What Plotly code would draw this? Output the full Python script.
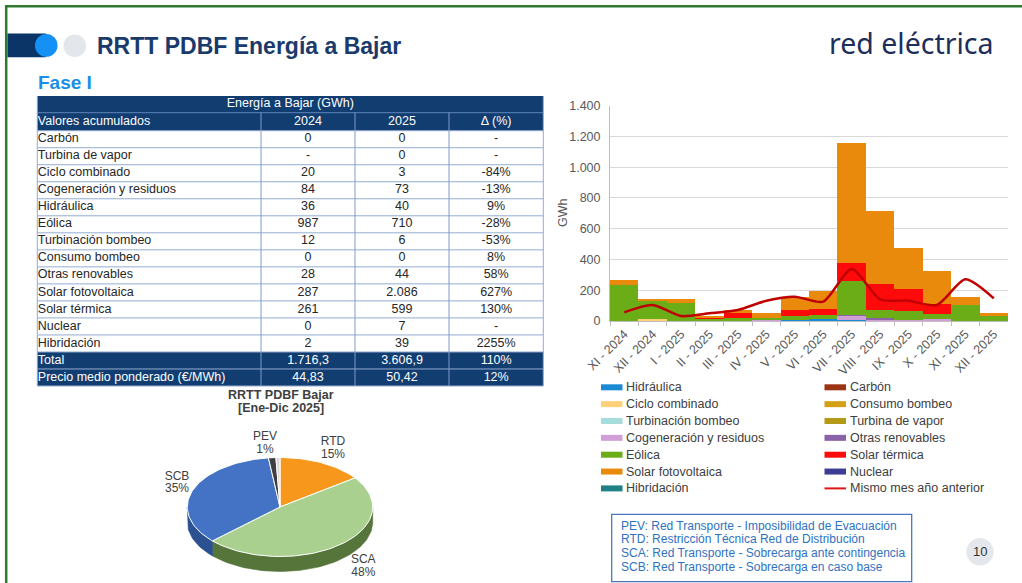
import math
import plotly.graph_objects as go

W, H = 1022, 583
FONT = "Liberation Sans, Arial, sans-serif"

# ---------------- DATA ----------------
months = ["XI - 2024", "XII - 2024", "I - 2025", "II - 2025", "III - 2025", "IV - 2025",
          "V - 2025", "VI - 2025", "VII - 2025", "VIII - 2025", "IX - 2025", "X - 2025",
          "XI - 2025", "XII - 2025"]

hidraulica   = [0, 0, 0, 0, 0, 0, 10, 12, 8, 0, 0, 0, 0, 0]
carbon       = [0, 0, 0, 0, 0, 0, 0, 0, 0, 0, 0, 0, 0, 0]
ciclo_comb   = [0, 15, 0, 0, 0, 0, 0, 0, 0, 0, 0, 0, 0, 0]
consumo_bomb = [0, 0, 0, 0, 0, 0, 0, 0, 0, 0, 0, 0, 0, 0]
turbinacion  = [0, 0, 0, 0, 0, 0, 0, 0, 0, 0, 0, 0, 0, 0]
turbina_vap  = [0, 0, 0, 0, 0, 0, 0, 0, 0, 0, 0, 0, 0, 0]
cogeneracion = [0, 0, 0, 0, 0, 7, 0, 0, 27, 14, 11, 15, 0, 0]
otras_renov  = [0, 0, 0, 0, 0, 0, 0, 0, 8, 8, 0, 0, 0, 0]
eolica       = [235, 115, 119, 18, 24, 14, 22, 27, 217, 54, 56, 31, 104, 33]
solar_term   = [0, 0, 0, 4, 30, 0, 39, 43, 119, 164, 141, 69, 0, 0]
solar_fv     = [32, 17, 28, 12, 22, 31, 87, 118, 780, 477, 271, 210, 54, 21]
nuclear      = [0, 0, 0, 0, 0, 0, 0, 0, 0, 0, 0, 0, 0, 0]
hibridacion  = [0, 0, 0, 0, 0, 0, 0, 0, 0, 0, 0, 0, 0, 0]
mismo_mes    = [56, 104, 32, 50, 72, 132, 158, 126, 338, 141, 132, 104, 271, 147]

series_names = ["Hidráulica", "Carbón", "Ciclo combinado", "Consumo bombeo",
                "Turbinación bombeo", "Turbina de vapor", "Cogeneración y residuos",
                "Otras renovables", "Eólica", "Solar térmica", "Solar fotovoltaica",
                "Nuclear", "Hibridación"]
series_values = [hidraulica, carbon, ciclo_comb, consumo_bomb, turbinacion, turbina_vap,
                 cogeneracion, otras_renov, eolica, solar_term, solar_fv, nuclear, hibridacion]
line_name = "Mismo mes año anterior"

y_ticks = [0, 200, 400, 600, 800, 1000, 1200, 1400]
y_title = "GWh"

tbl_title = "Energía a Bajar (GWh)"
tbl_header = ["Valores acumulados", "2024", "2025", "Δ (%)"]
tbl_rows = ["Carbón", "Turbina de vapor", "Ciclo combinado", "Cogeneración y residuos",
            "Hidráulica", "Eólica", "Turbinación bombeo", "Consumo bombeo",
            "Otras renovables", "Solar fotovoltaica", "Solar térmica", "Nuclear",
            "Hibridación", "Total", "Precio medio ponderado (€/MWh)"]
tbl_2024 = ["0", "-", "20", "84", "36", "987", "12", "0", "28", "287", "261", "0", "2",
            "1.716,3", "44,83"]
tbl_2025 = ["0", "0", "3", "73", "40", "710", "6", "0", "44", "2.086", "599", "7", "39",
            "3.606,9", "50,42"]
tbl_delta = ["-", "-", "-84%", "-13%", "9%", "-28%", "-53%", "8%", "58%", "627%", "130%",
             "-", "2255%", "110%", "12%"]
tbl_dark_rows = ["Total", "Precio medio ponderado (€/MWh)"]

pie_title = ["RRTT PDBF Bajar", "[Ene-Dic 2025]"]
pie_labels = ["RTD", "SCA", "SCB", "PEV", "Otros"]
pie_values = [15.0, 48.0, 35.0, 1.3, 0.7]
pie_show_label = [True, True, True, True, False]

footer_lines = ["PEV: Red Transporte - Imposibilidad de Evacuación",
                "RTD: Restricción Técnica Red de Distribución",
                "SCA: Red Transporte - Sobrecarga ante contingencia",
                "SCB: Red Transporte - Sobrecarga en caso base"]
page_number = "10"
slide_title = "RRTT PDBF Energía a Bajar"
subtitle = "Fase I"
logo_text = "red eléctrica"

# ---------------- STYLE ----------------
series_colors = ["#1a8ad4", "#9c3413", "#ffd07a", "#d4a116", "#a6dcdc", "#b39b18",
                 "#cf9fd6", "#8a62aa", "#6aad17", "#ff0a0a", "#ea8a0c", "#3b3c94", "#1f8086"]
line_color = "#c00000"
NAVY = "#113d70"
GRID_LINE = "#93acd3"
TXT = "#262626"
AX_TXT = "#595959"


def px(x):
    return x / W


def py(y):
    return 1 - y / H


fig = go.Figure()
shapes = []
ann = []

# ---------------- BAR CHART ----------------
for name, vals, col in zip(series_names, series_values, series_colors):
    fig.add_trace(go.Bar(x=months, y=vals, name=name, marker=dict(color=col, line=dict(width=0)),
                         xaxis="x", yaxis="y", showlegend=False))
fig.add_trace(go.Scatter(x=months, y=mismo_mes, name=line_name, mode="lines",
                         line=dict(color=line_color, width=2.5, shape="spline", smoothing=0.7),
                         xaxis="x", yaxis="y", showlegend=False))
ann.append(dict(text=y_title, x=px(563), y=py(213), xanchor="center", yanchor="middle",
                textangle=-90, font=dict(family=FONT, size=12.5, color=AX_TXT)))

# ---------------- TABLE (pixel-unit axes x4/y4) ----------------
T_L, T_R = 37.3, 543.3
col_edges = [T_L, 261.0, 355.0, 449.0, T_R]
title_top, header_top, body_top, row_h = 96.0, 112.7, 130.7, 17.02
n_rows = len(tbl_rows)
row_tops = [body_top + i * row_h for i in range(n_rows)]
T_B = body_top + n_rows * row_h

shapes.append(dict(type="rect", xref="x4", yref="y4", x0=T_L, x1=T_R, y0=title_top, y1=body_top,
                   fillcolor=NAVY, line=dict(width=0), layer="below"))
for r, name in enumerate(tbl_rows):
    if name in tbl_dark_rows:
        shapes.append(dict(type="rect", xref="x4", yref="y4", x0=T_L, x1=T_R, y0=row_tops[r],
                           y1=row_tops[r] + row_h, fillcolor=NAVY, line=dict(width=0), layer="below"))
for r in range(n_rows + 1):
    yv = body_top + r * row_h
    shapes.append(dict(type="line", xref="x4", yref="y4", x0=T_L, x1=T_R, y0=yv, y1=yv,
                       line=dict(color=GRID_LINE, width=1)))
shapes.append(dict(type="line", xref="x4", yref="y4", x0=T_L, x1=T_R, y0=header_top, y1=header_top,
                   line=dict(color="#5f84ba", width=1)))
for xe in col_edges:
    top = title_top if xe in (T_L, T_R) else header_top
    shapes.append(dict(type="line", xref="x4", yref="y4", x0=xe, x1=xe, y0=top, y1=T_B,
                       line=dict(color=GRID_LINE if xe in (T_L, T_R) else "#7f9ccb", width=1)))

row_mid = [t + row_h / 2 for t in row_tops]
txt_colors = ["white" if n in tbl_dark_rows else TXT for n in tbl_rows]
fig.add_trace(go.Scatter(x=[T_L + 0.5] * (n_rows + 1), y=[(header_top + body_top) / 2] + row_mid,
                         text=[tbl_header[0]] + tbl_rows, mode="text", textposition="middle right",
                         textfont=dict(family=FONT, size=12.5, color=["white"] + txt_colors),
                         xaxis="x4", yaxis="y4", showlegend=False, hoverinfo="skip", cliponaxis=False))
for ci, col_vals in enumerate([tbl_2024, tbl_2025, tbl_delta], start=1):
    xc = (col_edges[ci] + col_edges[ci + 1]) / 2
    fig.add_trace(go.Scatter(x=[xc] * (n_rows + 1), y=[(header_top + body_top) / 2] + row_mid,
                             text=[tbl_header[ci]] + col_vals, mode="text", textposition="middle center",
                             textfont=dict(family=FONT, size=12.5, color=["white"] + txt_colors),
                             xaxis="x4", yaxis="y4", showlegend=False, hoverinfo="skip", cliponaxis=False))
fig.add_trace(go.Scatter(x=[(T_L + T_R) / 2], y=[(title_top + header_top) / 2], text=[tbl_title],
                         mode="text", textposition="middle center",
                         textfont=dict(family=FONT, size=12.5, color="white"),
                         xaxis="x4", yaxis="y4", showlegend=False, hoverinfo="skip", cliponaxis=False))

# ---------------- PIE (3D-look ellipse, pixel-unit axes x3/y3) ----------------
cx, cy, rx, ry, depth = 280, 507, 92.7, 49.5, 15
pie_colors = ["#f7981d", "#a9d08e", "#4472c4", "#3f3f3f", "#d9d9d9"]
pie_side_colors = ["#b86e10", "#56753a", "#2c5190", "#262626", "#a0a0a0"]
total = sum(pie_values)


def ell(theta, dy=0.0):
    t = math.radians(theta)
    return cx + rx * math.sin(t), cy - ry * math.cos(t) + dy


bounds = []
acc = 0.0
for v in pie_values:
    a0 = acc
    acc += v / total * 360.0
    bounds.append((a0, acc))

for (a0, a1), scol in zip(bounds, pie_side_colors):
    s, e = max(a0, 90.0), min(a1, 270.0)
    if s >= e:
        continue
    n = max(4, int((e - s) / 2))
    top = [ell(s + (e - s) * i / n) for i in range(n + 1)]
    bot = [ell(e - (e - s) * i / n, depth) for i in range(n + 1)]
    pts = top + bot + [top[0]]
    fig.add_trace(go.Scatter(x=[p[0] for p in pts], y=[p[1] for p in pts], mode="lines",
                             fill="toself", fillcolor=scol, line=dict(width=0.6, color=scol),
                             xaxis="x3", yaxis="y3", showlegend=False, hoverinfo="skip"))
for (a0, a1), col in zip(bounds, pie_colors):
    n = max(2, int((a1 - a0) / 2))
    arc = [ell(a0 + (a1 - a0) * i / n) for i in range(n + 1)]
    pts = [(cx, cy)] + arc + [(cx, cy)]
    fig.add_trace(go.Scatter(x=[p[0] for p in pts], y=[p[1] for p in pts], mode="lines",
                             fill="toself", fillcolor=col, line=dict(width=1, color="white"),
                             xaxis="x3", yaxis="y3", showlegend=False, hoverinfo="skip"))

pie_label_pos = [(333, 441.7, 455), (363.3, 560, 573), (177, 476.7, 489.3), (265, 436.7, 449.5), (0, 0, 0)]
lab_x, lab_y, lab_t = [], [], []
for lab, v, show, pos in zip(pie_labels, pie_values, pie_show_label, pie_label_pos):
    if not show:
        continue
    pct = f"{round(v / total * 100)}%"
    lab_x += [pos[0], pos[0]]
    lab_y += [pos[1], pos[2]]
    lab_t += [lab, pct]
fig.add_trace(go.Scatter(x=lab_x, y=lab_y, text=lab_t, mode="text",
                         textfont=dict(family=FONT, size=12, color="#404040"),
                         xaxis="x3", yaxis="y3", showlegend=False, hoverinfo="skip", cliponaxis=False))

# ---------------- SHAPES & ANNOTATIONS ----------------
shapes.append(dict(type="rect", xref="paper", yref="paper", x0=px(6.2), x1=px(1040),
                   y0=py(6.2), y1=py(600), line=dict(color="#2d7a30", width=2.5)))
shapes.append(dict(type="rect", xref="paper", yref="paper", x0=px(7.5), x1=px(46), y0=py(57.3),
                   y1=py(33.5), fillcolor="#0b3467", line=dict(width=0)))
shapes.append(dict(type="circle", xref="paper", yref="paper", x0=px(35), x1=px(57.5),
                   y0=py(56.8), y1=py(34), fillcolor="#1590f5", line=dict(width=0)))
shapes.append(dict(type="circle", xref="paper", yref="paper", x0=px(63.5), x1=px(86),
                   y0=py(57), y1=py(34.5), fillcolor="#e3e6ea", line=dict(width=0)))
ann.append(dict(text=slide_title, x=px(95), y=py(46), xanchor="left", yanchor="middle",
                font=dict(family=FONT, size=23, color="#1a3a6c", weight="bold")))
ann.append(dict(text=subtitle, x=px(36), y=py(82), xanchor="left", yanchor="middle",
                font=dict(family=FONT, size=19, color="#1a8fe8", weight="bold")))
ann.append(dict(text=logo_text, x=px(911), y=py(43), xanchor="center", yanchor="middle",
                font=dict(family="Noto Sans, sans-serif", size=28.5, color="#1d2e5a")))

ann.append(dict(text=pie_title[0], x=px(281), y=py(395), xanchor="center", yanchor="middle",
                font=dict(family=FONT, size=12.5, color="#404040", weight="bold")))
ann.append(dict(text=pie_title[1], x=px(281), y=py(408.5), xanchor="center", yanchor="middle",
                font=dict(family=FONT, size=12.5, color="#404040", weight="bold")))

leg_items = [(n, c, "bar") for n, c in zip(series_names, series_colors)] + [(line_name, line_color, "line")]
for k, (name, col, kind) in enumerate(leg_items):
    row, colidx = divmod(k, 2)
    yc = 387.3 + row * 16.85
    x0 = 601 if colidx == 0 else 824.5
    if kind == "bar":
        shapes.append(dict(type="rect", xref="paper", yref="paper", x0=px(x0), x1=px(x0 + 21.5),
                           y0=py(yc + 3), y1=py(yc - 3), fillcolor=col, line=dict(width=0)))
    else:
        shapes.append(dict(type="line", xref="paper", yref="paper", x0=px(x0), x1=px(x0 + 21.5),
                           y0=py(yc), y1=py(yc), line=dict(color="#e01515", width=2)))
    ann.append(dict(text=name, x=px(x0 + 23), y=py(yc), xanchor="left", yanchor="middle",
                    font=dict(family=FONT, size=12.5, color="#404040")))

shapes.append(dict(type="rect", xref="paper", yref="paper", x0=px(611.7), x1=px(911.7),
                   y0=py(581.7), y1=py(514.3), line=dict(color="#4a78bb", width=1.3)))
for i, t in enumerate(footer_lines):
    ann.append(dict(text=t, x=px(618.5), y=py(525.7 + i * 13.65), xanchor="left", yanchor="middle",
                    font=dict(family=FONT, size=12, color="#2f72bf")))

shapes.append(dict(type="circle", xref="paper", yref="paper", x0=px(966.3), x1=px(993.7),
                   y0=py(565.4), y1=py(538), fillcolor="#e4e7eb", line=dict(width=0)))
ann.append(dict(text=page_number, x=px(980), y=py(551.7), xanchor="center", yanchor="middle",
                font=dict(family=FONT, size=13, color="#333333")))

for a in ann:
    a.update(xref="paper", yref="paper", showarrow=False)

fig.update_layout(
    width=W, height=H, margin=dict(l=0, r=0, t=0, b=0, pad=0, autoexpand=False),
    paper_bgcolor="white", plot_bgcolor="rgba(0,0,0,0)",
    separators=",.", barmode="stack", bargap=0,
    showlegend=False, shapes=shapes, annotations=ann,
    font=dict(family=FONT, color=AX_TXT),
    xaxis=dict(domain=[px(610), px(1008)], type="category", tickangle=-45,
               tickfont=dict(family=FONT, size=12.5, color=AX_TXT),
               showline=True, linecolor="#bfbfbf", linewidth=1, ticks="outside",
               tickson="boundaries", ticklen=4, tickcolor="#bfbfbf", showgrid=False,
               anchor="y", fixedrange=True, automargin=False),
    yaxis=dict(domain=[py(321), py(105.7)], range=[0, 1400], tickvals=y_ticks,
               tickformat=",d", gridcolor="#d9d9d9", showline=True, linecolor="#bfbfbf",
               zeroline=False, tickfont=dict(family=FONT, size=12.5, color=AX_TXT),
               ticks="", ticklabelstandoff=6, automargin=False,
               anchor="x", fixedrange=True),
    xaxis3=dict(domain=[px(150), px(410)], range=[150, 410], visible=False, anchor="y3",
                fixedrange=True, automargin=False),
    yaxis3=dict(domain=[0, py(430)], range=[583, 430], visible=False, anchor="x3",
                fixedrange=True, automargin=False),
    xaxis4=dict(domain=[px(30), px(550)], range=[30, 550], visible=False, anchor="y4",
                fixedrange=True, automargin=False),
    yaxis4=dict(domain=[py(390), py(92)], range=[390, 92], visible=False, anchor="x4",
                fixedrange=True, automargin=False),
)

fig.write_html("out.html", config={"displayModeBar": False},
               post_script="document.body.style.margin='0px';document.body.style.padding='0px';")
